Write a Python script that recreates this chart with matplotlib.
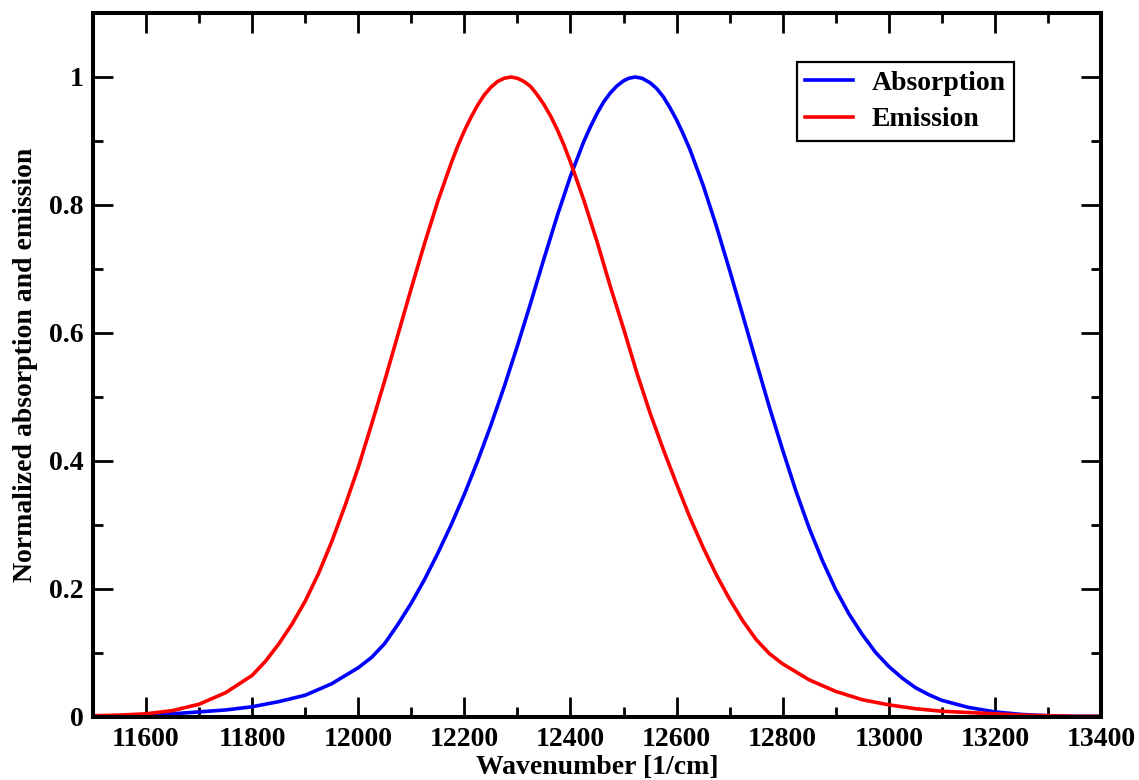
import matplotlib
matplotlib.use("Agg")
import matplotlib.pyplot as plt
from matplotlib.ticker import MultipleLocator

# values
emission_x = [11500, 11550, 11600, 11650, 11700, 11750, 11800, 11825, 11850, 11875,
              11900, 11925, 11950, 11975, 12000, 12025, 12050, 12075, 12100, 12125,
              12150, 12175, 12187.5, 12200, 12212.5, 12225, 12237.5, 12250, 12262.5, 12275,
              12288, 12300, 12312.5, 12325, 12337.5, 12350, 12362.5, 12375, 12387.5, 12400,
              12425, 12450, 12475, 12500, 12525, 12550, 12575, 12600,
              12625, 12650, 12675, 12700, 12725, 12750, 12775, 12800, 12850, 12900,
              12950, 13000, 13050, 13100, 13150, 13200, 13250, 13300, 13350, 13400]
emission_y = [0.002, 0.003, 0.005, 0.010, 0.020, 0.038, 0.065, 0.087, 0.114, 0.145,
              0.181, 0.224, 0.274, 0.330, 0.390, 0.457, 0.526, 0.598, 0.670, 0.740,
              0.806, 0.865, 0.892, 0.916, 0.937, 0.956, 0.972, 0.984, 0.993, 0.998,
              1.000, 0.998, 0.993, 0.985, 0.972, 0.957, 0.939, 0.918, 0.894, 0.867,
              0.808, 0.743, 0.673, 0.607, 0.538, 0.475, 0.418, 0.364,
              0.312, 0.265, 0.222, 0.184, 0.150, 0.121, 0.099, 0.083, 0.058, 0.040,
              0.027, 0.019, 0.013, 0.009, 0.007, 0.005, 0.003, 0.002, 0.001, 0.001]

absorption_x = [11500, 11550, 11600, 11650, 11700, 11750, 11800, 11850, 11900, 11950,
                12000, 12025, 12050, 12075, 12100, 12125, 12150, 12175, 12200, 12225,
                12250, 12275, 12300, 12325, 12350, 12375, 12400, 12425, 12437.5, 12450,
                12462.5, 12475, 12487.5, 12500, 12510, 12522, 12535, 12550, 12562.5, 12575,
                12587.5, 12600, 12612.5, 12625, 12650, 12675, 12700, 12725,
                12750, 12775, 12800, 12825, 12850, 12875, 12900, 12925, 12950, 12975,
                13000, 13025, 13050, 13075, 13100, 13150, 13200, 13250, 13300, 13350,
                13400]
absorption_y = [0.001, 0.002, 0.003, 0.005, 0.008, 0.011, 0.016, 0.024, 0.034, 0.052,
                0.077, 0.093, 0.115, 0.145, 0.178, 0.215, 0.256, 0.300, 0.348, 0.400,
                0.456, 0.516, 0.580, 0.647, 0.716, 0.783, 0.845, 0.899, 0.922, 0.943,
                0.961, 0.975, 0.986, 0.994, 0.998, 1.000, 0.998, 0.991, 0.982, 0.969,
                0.952, 0.933, 0.911, 0.887, 0.831, 0.767, 0.698, 0.627,
                0.555, 0.484, 0.417, 0.353, 0.295, 0.244, 0.199, 0.161, 0.129, 0.101,
                0.079, 0.061, 0.046, 0.035, 0.026, 0.015, 0.008, 0.004, 0.002, 0.001,
                0.001]

plt.rcParams['font.family'] = ['Liberation Serif', 'DejaVu Serif']
plt.rcParams['font.weight'] = 'bold'
plt.rcParams['font.size'] = 20

fig = plt.figure(figsize=(11.39, 7.8), dpi=100)
ax = fig.add_axes([93 / 1139, 1 - 717 / 780, 1008 / 1139, 704 / 780])

ax.plot(absorption_x, absorption_y, color='#0000ff', lw=2.6, label='Absorption')
ax.plot(emission_x, emission_y, color='#ff0000', lw=2.6, label='Emission')

ax.set_xlim(11500, 13400)
ax.set_ylim(0, 1.1)
ax.xaxis.set_minor_locator(MultipleLocator(100))
ax.yaxis.set_minor_locator(MultipleLocator(0.1))
ax.set_xticks([11600, 11800, 12000, 12200, 12400, 12600, 12800, 13000, 13200, 13400])
ax.set_yticks([0, 0.2, 0.4, 0.6, 0.8, 1.0])
ax.set_yticklabels(['0', '0.2', '0.4', '0.6', '0.8', '1'])

ax.tick_params(which='both', direction='in', top=True, right=True, width=2)
ax.tick_params(which='major', length=14.5, labelsize=20, pad=7)
ax.tick_params(which='minor', length=7.5)
for s in ax.spines.values():
    s.set_linewidth(2.9)

# x label sits right under the tick labels, like the original
fig.text(597 / 1139, 6 / 780, 'Wavenumber [1/cm]', ha='center', va='baseline',
         fontsize=20, fontweight='bold')
ax.set_ylabel('Normalized absorption and emission', fontsize=20, fontweight='bold', labelpad=8)

leg = ax.legend(loc='upper left', bbox_to_anchor=(797 / 1139, 1 - 62 / 780),
                bbox_transform=fig.transFigure, borderaxespad=0, fancybox=False,
                edgecolor='black', framealpha=1, handlelength=1.7, handletextpad=0.7,
                labelspacing=0.4, borderpad=0.3, prop={'size': 20, 'weight': 'bold'})
leg.get_frame().set_linewidth(1.6)

fig.savefig('out.png', dpi=100)
